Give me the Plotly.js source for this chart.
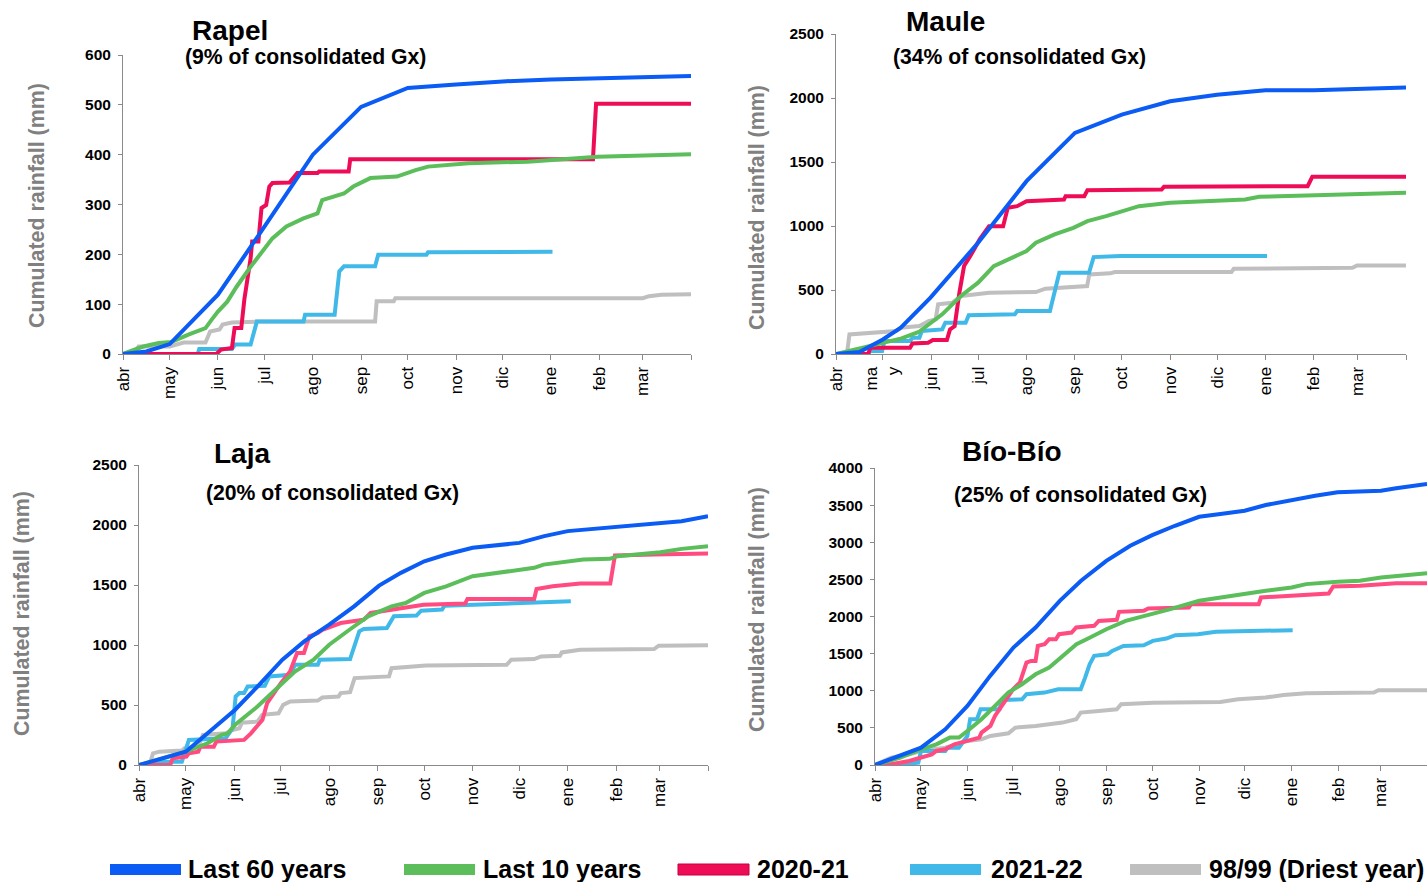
<!DOCTYPE html>
<html>
<head>
<meta charset="utf-8">
<script src="https://cdn.plot.ly/plotly-3.0.1.min.js"></script>
<style>html,body{margin:0;padding:0;background:#fff;}#chart{width:1427px;height:882px;}</style>
</head>
<body>
<div id="chart"></div>
<script>
// ---------- tick labels ----------
const monthLabels = ['abr','may','jun','jul','ago','sep','oct','nov','dic','ene','feb','mar'];
const monthLabelsMaule = ['abr','ma<br>y','jun','jul','ago','sep','oct','nov','dic','ene','feb','mar'];
const monthStartDays = [0,30,61,91,122,153,183,214,244,275,306,334];

const seriesNames = ['Last 60 years','Last 10 years','2020-21','2021-22','98/99 (Driest year)'];
const panelTitles = ['Rapel','Maule','Laja','Bío-Bío'];
const panelSubtitles = ['(9% of consolidated Gx)','(34% of consolidated Gx)','(20% of consolidated Gx)','(25% of consolidated Gx)'];

// ---------- Rapel ----------
const rapel60Days = [0,15,30,61,91,122,153,183,214,244,275,306,334,365];
const rapel60Vals = [0,5,20,119,256,400,496,534,541,547,551,553,555,558];
const rapel10Days = [0,13,23,31,42,53,57,61,67,73,82,91,96,105,116,125,128,142,148,159,176,188,196,222,260,305,365];
const rapel10Vals = [0,15,22,24,39,52,69,85,105,135,175,212,232,256,272,282,309,322,336,353,356,369,376,383,386,396,401];
const rapel2021Days = [0,60,63,70,71.7,76,78,82,83,87,89,92,94,96,107,112,125,126,145,146,302,304,365];
const rapel2021Vals = [0,0,9,12,52,52,110,192,226,226,293,299,336,343,344,363,363,366,366,391,391,502,502];
const rapel2122Days = [0,48,49,70,72,82,86,116,117,136,139,142,162,164,195,196,276];
const rapel2122Vals = [0,0,10,10,19,19,65,65,79,79,166,176,176,199,199,204,205];
const rapel98Days = [0,8,10,30,39,53,56,62,64,70,87,162,163,174,175,334,338,346,365];
const rapel98Vals = [0,5,15,15,23,23,45,49,59,63,65,65,106,106,112,112,116,119,120];

// ---------- Maule ----------
const maule60Days = [0,15,30,41.5,60.5,91,122,153,183,214,244,275,306,334,365];
const maule60Vals = [0,15,114,205,440,869,1350,1727,1870,1974,2026,2060,2060,2070,2083];
const maule10Days = [0,12,24,30,42,53,61,68,80,91,101,110,122,128,140,152,161,173,183,194,214,241,262,271,307,365];
const maule10Vals = [0,36,70,83,122,172,244,310,453,557,687,739,804,869,934,986,1038,1077,1116,1155,1181,1199,1207,1228,1238,1259];
const maule2021Days = [0,20.6,22,47.4,49,59,62,71,73,76,79,82,86,92,98,107,110,116,122,146,147,159,161,208.5,210,302,305,365];
const maule2021Vals = [0,0,49,49,83,88,109,109,192,218,478,687,765,895,999,999,1142,1155,1194,1207,1233,1233,1280,1285,1306,1311,1384,1384];
const maule2122Days = [0,20.6,22,29.5,31,47.4,49,53.4,55,59,68,70,83,85,114.5,116,137,143,162,165,182,276];
const maule2122Vals = [0,0,23,23,101,101,127,127,180,185,192,244,244,302,310,336,336,635,635,757,765,765];
const maule98Days = [0,7,8.6,26.5,38.5,41.5,53.4,59.3,63.8,65.4,74.3,80.2,92.2,98.1,128,134,160.8,162.2,175.6,178.6,253.2,254.7,330.7,333.7,365];
const maule98Vals = [0,0,153,166,179,205,218,257,270,388,400,453,466,479,484,510,531,622,630,640,640,666,674,692,692];

// ---------- Laja ----------
const laja60Days = [0,30,44,61.5,76,92,106,122,138,154,168,183,197,214,244,260,275,307,334.5,348,365];
const laja60Vals = [0,111,264,459,654,877,1030,1169,1322,1495,1601,1698,1754,1810,1851,1907,1949,1985,2010,2032,2074];
const laja10Days = [0,30,44,53,57,61.5,76,92,100,112,122,135,147,162,171,183,197,214,230,244,253.5,259.5,275,285,302,307,334.5,348,365];
const laja10Vals = [0,111,181,251,264,334,487,682,779,877,1002,1127,1239,1322,1350,1434,1489,1573,1601,1623,1643,1670,1698,1712,1718,1740,1773,1801,1823];
const laja2021Days = [0,20,21.6,30.4,32,38,39.3,48,49.6,67.4,71.8,74.8,79.2,82.2,86.6,91,96.9,101.4,105.8,109.3,114.7,117.6,129.4,144.2,148.6,156,167.8,182.6,209.2,210.7,253.5,255,265.4,283.1,302.3,305.3,330.4,365];
const laja2021Vals = [0,0,56,70,97,111,153,153,195,209,264,306,376,515,599,682,779,933,933,1072,1100,1127,1183,1211,1267,1281,1308,1336,1345,1384,1384,1467,1489,1512,1512,1746,1754,1762];
const laja2122Days = [0,8,11,27.5,32,41,55.6,60,62,64.4,67.4,69.7,80.7,83.6,97,100,114.7,116,135.4,141.3,144.2,159,163.5,178,181,194.4,196,215,236,250.6,277];
const laja2122Vals = [0,14,28,28,209,214,223,306,571,599,599,654,660,738,752,835,835,877,883,1114,1133,1141,1239,1245,1286,1295,1328,1336,1345,1350,1364];
const laja98Days = [0,7,9,13,27.5,29,38,41,55.6,60,64.4,66,76,79,89.5,92.5,97,114.7,117.6,128,129.4,135.4,138.3,156,160.4,162,179.6,184,235.8,238.8,253.5,258,270,271.2,283,330.4,333.4,365];
const laja98Vals = [0,14,97,111,120,139,153,251,264,292,306,353,362,418,431,501,529,537,562,571,599,607,724,732,738,807,821,830,835,877,883,905,910,938,960,966,994,997];

// ---------- Bío-Bío ----------
const bio60Days = [0,30.4,46.4,61,76,91.4,106,122,136,152.7,168.5,183,198,214,228,244,258,275,290.6,305.4,320,334,344,364.4];
const bio60Vals = [0,234,481,795,1200,1582,1852,2211,2481,2750,2953,3096,3222,3343,3380,3424,3501,3573,3627,3672,3681,3694,3726,3784];
const bio10Days = [0,16.7,30.4,40.5,49.4,55.4,61,70.3,79.2,88,97,106,115,124,133,142,152.7,165.5,183,195,214,228,244,258,275,284.6,305.4,320,334,364.4];
const bio10Vals = [0,99,211,279,369,369,458,616,795,975,1088,1222,1312,1470,1627,1717,1829,1941,2031,2099,2211,2256,2301,2346,2391,2436,2467,2481,2526,2584];
const bio2021Days = [0,10.7,22.6,30.4,34.5,37.5,40.5,46.4,52.4,61.3,68.8,70.3,76.2,79.2,85.1,91.1,95.6,98.5,100,103,106,107.5,112,115,119.4,121.5,129.8,132.8,144.7,147.7,159.6,161.1,177.4,180.4,207.2,208.7,253.3,254.8,272.7,281.6,299.5,302.5,320.3,344,364.4];
const bio2021Vals = [0,9,54,99,121,144,189,211,279,324,369,436,526,661,840,1020,1110,1312,1380,1402,1402,1604,1627,1694,1694,1762,1784,1852,1874,1941,1955,2063,2076,2108,2121,2166,2166,2256,2278,2292,2310,2404,2413,2449,2449];
const bio2122Days = [0,16.7,28.6,30.4,46.4,47.9,55.4,56.9,61,62.8,67.3,69.7,82.2,83.7,97.1,100,111.9,120.9,135.8,138.7,141.7,144.7,153.6,156.6,164,177.4,183.4,192.3,198.3,213.2,225.1,254.8,275.7];
const bio2122Vals = [0,9,31,189,189,234,234,279,391,616,616,750,750,876,885,953,975,1020,1020,1177,1357,1470,1492,1537,1604,1613,1672,1703,1748,1762,1793,1807,1816];
const bio98Days = [0,10.7,22.6,30.4,46.4,61,70.3,76.2,88.1,92.6,106,123.8,132.8,135.8,147.7,159.6,162.5,177.4,183.4,228,239.7,257.8,269.7,284.6,329.3,332.3,364.4];
const bio98Vals = [0,99,144,189,234,324,346,391,427,503,526,571,616,706,728,751,818,831,840,849,885,908,944,966,975,1007,1007];

// ---------- styling / build ----------
const W = 1427, H = 882;
const FONT = 'Liberation Sans, Arial, Helvetica, sans-serif';
const COL60 = '#0B5BF5', COL10 = '#5BBE5A', COL2021 = '#EE0C57', COL2021b = '#FF4B80', COL2122 = '#41B9E8', COL98 = '#BFBFBF';
const fx = p => p / W;
const fy = p => 1 - p / H;

const panels = [
  {days:[rapel60Days,rapel10Days,rapel2021Days,rapel2122Days,rapel98Days], vals:[rapel60Vals,rapel10Vals,rapel2021Vals,rapel2122Vals,rapel98Vals],
   red:COL2021, xd:[123,691], yd:[354,55], yr:[0,600], dt:100, xr:[0,365], labels:monthLabels,
   title:[230,30], sub:[305,57], ytitle:[37,206]},
  {days:[maule60Days,maule10Days,maule2021Days,maule2122Days,maule98Days], vals:[maule60Vals,maule10Vals,maule2021Vals,maule2122Vals,maule98Vals],
   red:COL2021, xd:[836,1406], yd:[354,34], yr:[0,2500], dt:500, xr:[0,365], labels:monthLabelsMaule,
   title:[945,22], sub:[1019,57], ytitle:[757,208]},
  {days:[laja60Days,laja10Days,laja2021Days,laja2122Days,laja98Days], vals:[laja60Vals,laja10Vals,laja2021Vals,laja2122Vals,laja98Vals],
   red:COL2021b, xd:[139,708], yd:[765,465], yr:[0,2500], dt:500, xr:[0,365], labels:monthLabels,
   title:[242,453], sub:[332,493], ytitle:[22,614]},
  {days:[bio60Days,bio10Days,bio2021Days,bio2122Days,bio98Days], vals:[bio60Vals,bio10Vals,bio2021Vals,bio2122Vals,bio98Vals],
   red:COL2021b, xd:[875,1427], yd:[765,468], yr:[0,4000], dt:500, xr:[0,364.4], labels:monthLabels,
   title:[1012,451], sub:[1080,495], ytitle:[757,610]}
];

const traces = [];
const layout = {
  width: W, height: H,
  margin: {l:0, r:0, t:0, b:0},
  paper_bgcolor: '#ffffff', plot_bgcolor: '#ffffff',
  showlegend: false,
  font: {family: FONT, color: '#000'},
  annotations: [], shapes: []
};

const drawOrder = [4,3,2,1,0];
panels.forEach((p, i) => {
  const n = i + 1;
  const xa = 'x' + (n === 1 ? '' : n), ya = 'y' + (n === 1 ? '' : n);
  const colors = [COL60, COL10, p.red, COL2122, COL98];
  drawOrder.forEach(k => {
    traces.push({
      type: 'scatter', mode: 'lines', name: seriesNames[k],
      x: p.days[k], y: p.vals[k], xaxis: xa, yaxis: ya,
      line: {color: colors[k], width: 4}, hoverinfo: 'skip'
    });
  });
  const tv = monthStartDays.slice();
  const tt = p.labels.slice();
  if (p.xr[1] >= 365) { tv.push(365); tt.push(''); }
  layout['xaxis' + (n === 1 ? '' : n)] = {
    domain: [fx(p.xd[0]), Math.min(1, fx(p.xd[1]))], range: p.xr, anchor: ya,
    tickmode: 'array', tickvals: tv, ticktext: tt, tickangle: -90,
    ticks: 'outside', ticklen: 5, tickcolor: '#8a8a8a', tickwidth: 1,
    showline: true, linecolor: '#8a8a8a', linewidth: 1, showgrid: false, zeroline: false,
    tickfont: {family: FONT, size: 17, color: '#000'}, fixedrange: true
  };
  layout['yaxis' + (n === 1 ? '' : n)] = {
    domain: [fy(p.yd[0]), fy(p.yd[1])], range: p.yr, anchor: xa, dtick: p.dt, tick0: 0,
    ticks: 'outside', ticklen: 4, tickcolor: '#8a8a8a', tickwidth: 1,
    showline: true, linecolor: '#8a8a8a', linewidth: 1, showgrid: false, zeroline: false,
    tickfont: {family: FONT, size: 15.5, color: '#000', weight: 'bold'}, ticklabelstandoff: 4, fixedrange: true
  };
  layout.annotations.push({
    xref:'paper', yref:'paper', x: fx(p.title[0]), y: fy(p.title[1]), xanchor:'center', yanchor:'middle',
    text: panelTitles[i], showarrow:false, font:{family:FONT, size:28, color:'#000', weight:'bold'}
  });
  layout.annotations.push({
    xref:'paper', yref:'paper', x: fx(p.sub[0]), y: fy(p.sub[1]), xanchor:'center', yanchor:'middle',
    text: panelSubtitles[i], showarrow:false, font:{family:FONT, size:21.2, color:'#000', weight:'bold'}
  });
  layout.annotations.push({
    xref:'paper', yref:'paper', x: fx(p.ytitle[0]), y: fy(p.ytitle[1]), xanchor:'center', yanchor:'middle',
    text: 'Cumulated rainfall (mm)', textangle: -90, showarrow:false, font:{family:FONT, size:21.4, color:'#808080', weight:'bold'}
  });
});

// ---------- legend (drawn manually at bottom) ----------
const legendColors = [COL60, COL10, COL2021, COL2122, COL98];
const legendSwatchX = [110, 404, 678, 910, 1130];
const legendTextX = [186, 481, 755, 989, 1207];
seriesNames.forEach((name, k) => {
  layout.shapes.push({
    type:'rect', xref:'paper', yref:'paper',
    x0: fx(legendSwatchX[k]), x1: fx(legendSwatchX[k] + 71), y0: fy(875), y1: fy(864),
    fillcolor: legendColors[k], line: {width: k === 2 ? 1 : 0, color: '#c8003c'}
  });
  layout.annotations.push({
    xref:'paper', yref:'paper', x: fx(legendTextX[k]), y: fy(869), xanchor:'left', yanchor:'middle',
    text: name, showarrow:false, font:{family:FONT, size:25, color:'#000', weight:'bold'}
  });
});

Plotly.newPlot('chart', traces, layout, {staticPlot: true, displayModeBar: false});
</script>
</body>
</html>
